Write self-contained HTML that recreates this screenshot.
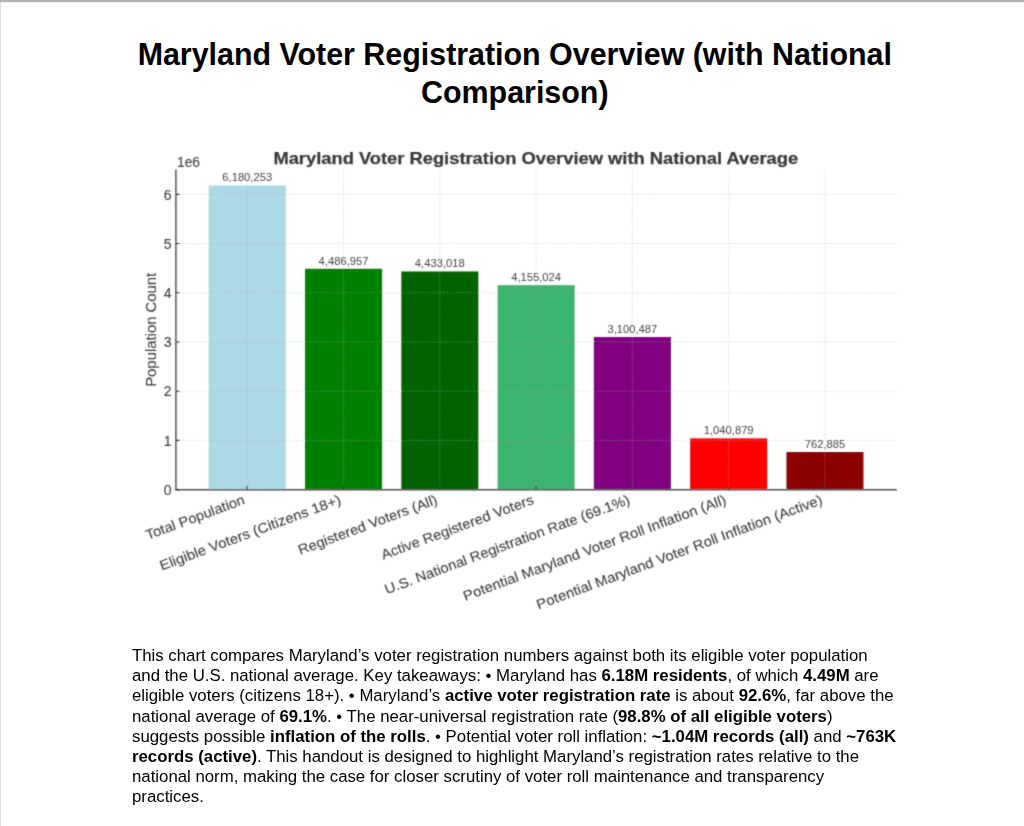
<!DOCTYPE html>
<html><head><meta charset="utf-8"><title>Maryland Voter Registration Overview</title>
<style>
html,body{margin:0;padding:0;background:#fff;}
body{width:1024px;height:826px;position:relative;overflow:hidden;font-family:"Liberation Sans",sans-serif;color:#000;}
.topb{position:absolute;left:0;top:0;width:1024px;height:2px;background:#b4b4b4;}
.topb2{position:absolute;left:1px;top:2px;width:1024px;height:1px;background:#ececec;}
.leftb{position:absolute;left:0;top:0;width:1px;height:826px;background:#dcdcdc;}
.title{position:absolute;left:0;width:1029.6px;text-align:center;font-weight:bold;font-size:30.4px;line-height:37.2px;white-space:nowrap;transform:scaleY(1.05);transform-origin:0 29.1px;}
.para{position:absolute;left:132px;top:0;font-size:16.8px;white-space:nowrap;}
.para div{position:absolute;left:0;}
b{font-weight:bold;}
</style></head><body>
<div class="leftb"></div><div class="topb"></div><div class="topb2"></div>
<div class="title" style="top:36.2px">Maryland Voter Registration Overview (with National</div>
<div class="title" style="top:73.5px">Comparison)</div>
<div style="position:absolute;left:0;top:0;width:1024px;height:826px"><svg width="1024" height="826" viewBox="0 0 1024 826" style="display:block"><defs><filter id="bl" x="0" y="0" width="1024" height="826" filterUnits="userSpaceOnUse"><feConvolveMatrix order="3" kernelMatrix="0.062 0.249 0.062 0.249 1 0.249 0.062 0.249 0.062" edgeMode="none"/></filter></defs><g filter="url(#bl)">
<rect x="208.74" y="185.49" width="77.03" height="304.11" fill="#ADD8E6"/>
<rect x="305.02" y="268.81" width="77.03" height="220.79" fill="#008000"/>
<rect x="401.30" y="271.47" width="77.03" height="218.13" fill="#006400"/>
<rect x="497.59" y="285.15" width="77.03" height="204.45" fill="#3CB371"/>
<rect x="593.87" y="337.04" width="77.03" height="152.56" fill="#800080"/>
<rect x="690.15" y="438.38" width="77.03" height="51.22" fill="#FF0000"/>
<rect x="786.44" y="452.06" width="77.03" height="37.54" fill="#8B0000"/>
<g stroke="rgba(170,170,170,0.34)" stroke-width="1" stroke-dasharray="2 1.42"><line x1="176.00" y1="489.60" x2="896.20" y2="489.60"/><line x1="176.00" y1="440.39" x2="896.20" y2="440.39"/><line x1="176.00" y1="391.19" x2="896.20" y2="391.19"/><line x1="176.00" y1="341.98" x2="896.20" y2="341.98"/><line x1="176.00" y1="292.77" x2="896.20" y2="292.77"/><line x1="176.00" y1="243.57" x2="896.20" y2="243.57"/><line x1="176.00" y1="194.36" x2="896.20" y2="194.36"/><line x1="247.25" y1="170.30" x2="247.25" y2="489.60"/><line x1="343.53" y1="170.30" x2="343.53" y2="489.60"/><line x1="439.82" y1="170.30" x2="439.82" y2="489.60"/><line x1="536.10" y1="170.30" x2="536.10" y2="489.60"/><line x1="632.38" y1="170.30" x2="632.38" y2="489.60"/><line x1="728.67" y1="170.30" x2="728.67" y2="489.60"/><line x1="824.95" y1="170.30" x2="824.95" y2="489.60"/></g>
<path stroke="#555" stroke-width="1.5" fill="none" stroke-linecap="square" d="M175.90 170.30 V489.80 H896.20"/>
<path stroke="#333" stroke-width="1.1" d="M176.00 489.60 h3.5 M176.00 440.39 h3.5 M176.00 391.19 h3.5 M176.00 341.98 h3.5 M176.00 292.77 h3.5 M176.00 243.57 h3.5 M176.00 194.36 h3.5 M247.25 489.60 v-3.5 M343.53 489.60 v-3.5 M439.82 489.60 v-3.5 M536.10 489.60 v-3.5 M632.38 489.60 v-3.5 M728.67 489.60 v-3.5 M824.95 489.60 v-3.5"/>
<g font-family="Liberation Sans, sans-serif" font-size="14.0" fill="#3d3d3d" stroke="#3d3d3d" stroke-width="0.1" text-anchor="end"><text x="171.6" y="494.90">0</text><text x="171.6" y="445.69">1</text><text x="171.6" y="396.49">2</text><text x="171.6" y="347.28">3</text><text x="171.6" y="298.07">4</text><text x="171.6" y="248.87">5</text><text x="171.6" y="199.66">6</text></g>
<text x="177" y="167.3" font-family="Liberation Sans, sans-serif" font-size="14.0" fill="#3d3d3d" stroke="#3d3d3d" stroke-width="0.1" textLength="23" lengthAdjust="spacingAndGlyphs">1e6</text>
<text transform="translate(155.8,329.8) rotate(-90)" text-anchor="middle" font-family="Liberation Sans, sans-serif" font-size="14.2" fill="#3d3d3d" stroke="#3d3d3d" stroke-width="0.1" textLength="114" lengthAdjust="spacingAndGlyphs">Population Count</text>
<g font-family="Liberation Sans, sans-serif" font-size="10.6" fill="#444" text-anchor="middle"><text x="247.25" y="181.49" textLength="49.9" lengthAdjust="spacingAndGlyphs">6,180,253</text><text x="343.53" y="264.81" textLength="49.9" lengthAdjust="spacingAndGlyphs">4,486,957</text><text x="439.82" y="267.47" textLength="49.9" lengthAdjust="spacingAndGlyphs">4,433,018</text><text x="536.10" y="281.15" textLength="49.9" lengthAdjust="spacingAndGlyphs">4,155,024</text><text x="632.38" y="333.04" textLength="49.9" lengthAdjust="spacingAndGlyphs">3,100,487</text><text x="728.67" y="434.38" textLength="49.9" lengthAdjust="spacingAndGlyphs">1,040,879</text><text x="824.95" y="448.06" textLength="40.5" lengthAdjust="spacingAndGlyphs">762,885</text></g>
<g font-family="Liberation Sans, sans-serif" font-size="13.8" fill="#3d3d3d" stroke="#3d3d3d" stroke-width="0.1" text-anchor="end"><text transform="translate(245.75,503.50) rotate(-20.4)" textLength="104.5" lengthAdjust="spacingAndGlyphs">Total Population</text><text transform="translate(342.03,503.50) rotate(-20.4)" textLength="192.3" lengthAdjust="spacingAndGlyphs">Eligible Voters (Citizens 18+)</text><text transform="translate(438.32,503.50) rotate(-20.4)" textLength="147.3" lengthAdjust="spacingAndGlyphs">Registered Voters (All)</text><text transform="translate(534.60,503.50) rotate(-20.4)" textLength="161.4" lengthAdjust="spacingAndGlyphs">Active Registered Voters</text><text transform="translate(630.88,503.50) rotate(-20.4)" textLength="260.4" lengthAdjust="spacingAndGlyphs">U.S. National Registration Rate (69.1%)</text><text transform="translate(727.17,503.50) rotate(-20.4)" textLength="279.4" lengthAdjust="spacingAndGlyphs">Potential Maryland Voter Roll Inflation (All)</text><text transform="translate(823.45,503.50) rotate(-20.4)" textLength="303.9" lengthAdjust="spacingAndGlyphs">Potential Maryland Voter Roll Inflation (Active)</text></g>
<text x="273.4" y="163.6" font-family="Liberation Sans, sans-serif" font-weight="bold" font-size="16.3" fill="#3a3a3a" stroke="#3a3a3a" stroke-width="0.25" textLength="524.7" lengthAdjust="spacingAndGlyphs">Maryland Voter Registration Overview with National Average</text>
</g></svg></div>
<div class="para">
<div style="top:646.00px">This chart compares Maryland’s voter registration numbers against both its eligible voter population</div>
<div style="top:666.20px">and the U.S. national average. Key takeaways: • Maryland has <b>6.18M residents</b>, of which <b>4.49M</b> are</div>
<div style="top:686.40px">eligible voters (citizens 18+). • Maryland’s <b>active voter registration rate</b> is about <b>92.6%</b>, far above the</div>
<div style="top:706.60px">national average of <b>69.1%</b>. • The near-universal registration rate (<b>98.8% of all eligible voters</b>)</div>
<div style="top:726.80px">suggests possible <b>inflation of the rolls</b>. • Potential voter roll inflation: <b>~1.04M records (all)</b> and <b>~763K</b></div>
<div style="top:747.00px"><b>records (active)</b>. This handout is designed to highlight Maryland’s registration rates relative to the</div>
<div style="top:767.20px">national norm, making the case for closer scrutiny of voter roll maintenance and transparency</div>
<div style="top:787.40px">practices.</div>
</div>
</body></html>
